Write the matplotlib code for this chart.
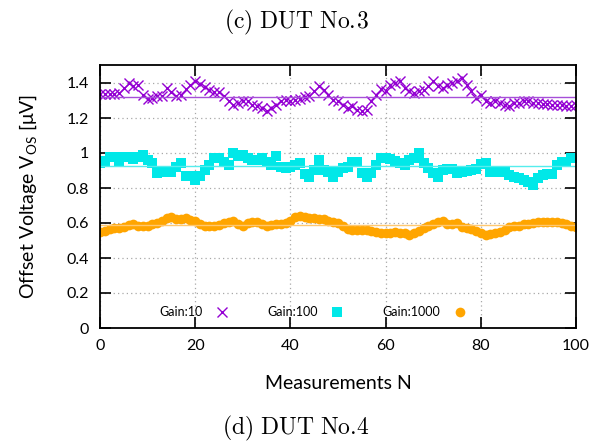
import matplotlib
matplotlib.use("Agg")
import matplotlib.pyplot as plt
import numpy as np
from matplotlib.ticker import FuncFormatter

plt.rcParams['font.family'] = ['Lato', 'DejaVu Sans']
plt.rcParams['mathtext.fontset'] = 'custom'
plt.rcParams['mathtext.rm'] = 'Lato'
plt.rcParams['mathtext.it'] = 'Lato:italic'

# measurement index
n = np.arange(0, 101)

gain10 = [1.337, 1.337, 1.337, 1.337, 1.34, 1.37, 1.40, 1.38, 1.39, 1.333,
          1.31, 1.315, 1.325, 1.325, 1.37, 1.35, 1.325, 1.333, 1.368, 1.39,
          1.413, 1.394, 1.375, 1.36, 1.35, 1.35, 1.325, 1.295, 1.276, 1.286,
          1.295, 1.295, 1.276, 1.267, 1.257, 1.238, 1.257, 1.276, 1.295, 1.305,
          1.295, 1.305, 1.31, 1.318, 1.325, 1.356, 1.38, 1.36, 1.33, 1.305,
          1.295, 1.276, 1.257, 1.267, 1.248, 1.238, 1.248, 1.295, 1.333, 1.368,
          1.356, 1.39, 1.40, 1.41, 1.37, 1.356, 1.343, 1.352, 1.36, 1.38,
          1.41, 1.38, 1.37, 1.39, 1.40, 1.41, 1.43, 1.39, 1.352, 1.314,
          1.333, 1.295, 1.286, 1.295, 1.286, 1.276, 1.267, 1.286, 1.286, 1.295,
          1.295, 1.286, 1.286, 1.28, 1.28, 1.276, 1.276, 1.272, 1.267, 1.267,
          1.276]

gain100 = [0.941, 0.952, 0.979, 0.979, 0.95, 0.975, 0.975, 0.967, 0.975, 0.987,
           0.96, 0.94, 0.886, 0.895, 0.891, 0.89, 0.92, 0.94, 0.87, 0.867,
           0.845, 0.87, 0.90, 0.93, 0.97, 0.97, 0.95, 0.93, 1.0, 0.985,
           0.99, 0.97, 0.96, 0.962, 0.97, 0.95, 0.93, 0.98, 0.92, 0.915,
           0.92, 0.93, 0.94, 0.88, 0.86, 0.905, 0.96, 0.90, 0.89, 0.86,
           0.89, 0.912, 0.92, 0.95, 0.95, 0.884, 0.865, 0.884, 0.93, 0.97,
           0.973, 0.966, 0.954, 0.94, 0.93, 0.96, 0.97, 1.0, 0.94, 0.912,
           0.884, 0.865, 0.903, 0.909, 0.909, 0.884, 0.89, 0.897, 0.903, 0.909,
           0.935, 0.94, 0.893, 0.893, 0.893, 0.893, 0.874, 0.865, 0.855, 0.846,
           0.836, 0.817, 0.855, 0.874, 0.878, 0.878, 0.93, 0.95, 0.95, 0.97,
           0.973]

gain1000 = [0.55, 0.556, 0.566, 0.57, 0.57, 0.575, 0.589, 0.594, 0.585, 0.585,
            0.581, 0.594, 0.60, 0.613, 0.627, 0.632, 0.623, 0.623, 0.627, 0.617,
            0.613, 0.594, 0.585, 0.581, 0.585, 0.589, 0.60, 0.604, 0.613, 0.594,
            0.581, 0.60, 0.604, 0.604, 0.594, 0.585, 0.589, 0.594, 0.594, 0.60,
            0.611, 0.632, 0.642, 0.632, 0.627, 0.627, 0.623, 0.623, 0.613, 0.608,
            0.60, 0.581, 0.566, 0.562, 0.562, 0.562, 0.558, 0.552, 0.547, 0.543,
            0.543, 0.545, 0.547, 0.545, 0.543, 0.531, 0.543, 0.556, 0.573, 0.585,
            0.594, 0.604, 0.613, 0.594, 0.594, 0.60, 0.575, 0.571, 0.566, 0.554,
            0.543, 0.531, 0.537, 0.543, 0.547, 0.562, 0.575, 0.581, 0.585, 0.594,
            0.594, 0.598, 0.608, 0.604, 0.604, 0.608, 0.608, 0.60, 0.594, 0.581,
            0.575]

# average levels drawn as horizontal lines
mean10 = 1.32
mean100 = 0.925
mean1000 = 0.59

fig = plt.figure(figsize=(5.92, 4.48), dpi=100)
ax = fig.add_axes([100/592, 1-328/448, 476/592, 262.5/448])

ax.plot(n, gain10, ls='none', marker='x', ms=6.5, mew=1.0, color='#9400d3', label='Gain:10')
ax.axhline(mean10, color='#a64fd8', lw=1.0)
ax.plot(n, gain100, ls='none', marker='s', ms=7, mew=0, color='#00e8e8', label='Gain:100')
ax.axhline(mean100, color='#55eded', lw=1.0)
ax.plot(n, gain1000, ls='none', marker='o', ms=7, mew=0, color='#ffa500', label='Gain:1000')
ax.axhline(mean1000, color='#ffc870', lw=1.0)

ax.set_xlim(0, 100)
ax.set_ylim(0, 1.5)
ax.set_xticks(np.arange(0, 101, 20))
ax.set_yticks(np.arange(0, 1.41, 0.2))
ax.yaxis.set_major_formatter(FuncFormatter(lambda v, p: '%g' % round(v, 2)))
ax.tick_params(direction='in', length=8, width=1.2, top=True, right=True,
               labelsize=11.5, pad=8)
ax.grid(True, ls=(0, (1, 2.5)), color='#a8a8a8', lw=0.9)
for s in ax.spines.values():
    s.set_linewidth(1.3)

ax.set_xlabel('Measurements N', fontsize=14, labelpad=16)
ax.set_ylabel(r'Offset Voltage V$_{\mathrm{OS}}$ [μV]', fontsize=14, labelpad=20)

ax.legend(loc='center', bbox_to_anchor=(0.45, 0.061), ncol=3, frameon=False,
          markerfirst=False, fontsize=9, handletextpad=0.8, columnspacing=2.9,
          handlelength=1.5)

fig.text(0.5, 1-22/448, r'$\mathrm{(c)\ DUT\ No.\!3}$', ha='center', va='center',
         fontsize=17, math_fontfamily='cm')
fig.text(0.5, 1-428/448, r'$\mathrm{(d)\ DUT\ No.\!4}$', ha='center', va='center',
         fontsize=17, math_fontfamily='cm')

fig.savefig('out.png', dpi=100)
